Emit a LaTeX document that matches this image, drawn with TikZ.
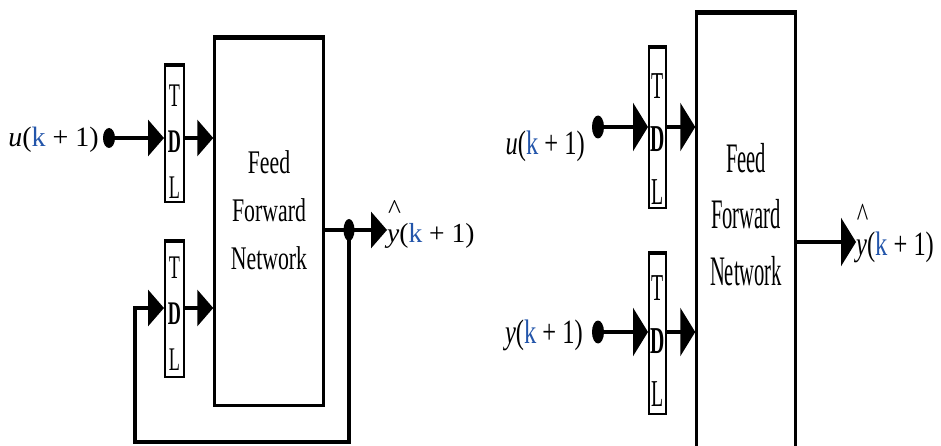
\documentclass[tikz,border=0pt]{standalone}
\usepackage{fontspec}
\setmainfont{Liberation Serif}
\usetikzlibrary{arrows.meta,shapes.geometric}
\definecolor{kblue}{RGB}{35,85,170}
\newcommand{\kk}{\textcolor{kblue}{k}}
\newcommand{\yhat}{\makebox[0pt][l]{\hspace{0.03em}\raisebox{0.85em}{\textasciicircum}}\textit{y}}
\newcommand{\tdltext}[3]{\scalebox{#1}[1]{\fontsize{#2}{#3}\selectfont\begin{tabular}{@{}c@{}}T\\\textbf{D}\\L\end{tabular}}}
\newcommand{\ffntext}[3]{\scalebox{#1}[1]{\fontsize{#2}{#3}\selectfont\begin{tabular}{@{}c@{}}Feed\\Forward\\Network\end{tabular}}}
\begin{document}
\begin{tikzpicture}[x=1pt,y=-1pt,
  ffnbox/.style={draw, line width=2.5pt, inner sep=0pt, minimum width=#1},
  tdlbox/.style={draw, line width=2pt, inner sep=0pt},
  dotnode/.style={ellipse, fill=black, draw=none, inner sep=0pt, minimum width=12pt, minimum height=#1},
  txt/.style={inner sep=0pt},
  wire/.style={line width=3.5pt},
  connL/.style={line width=3.5pt, -{Triangle[length=16pt,width=36pt]}},
  connR/.style={line width=3.5pt, -{Triangle[length=15pt,width=48pt]}},
  topedge/.style={line width=4.5pt}]
\clip (0,0) rectangle (941,446);
\fill[white] (0,0) rectangle (941,446);

% ---------------- left diagram ----------------
\node[ffnbox=109pt, minimum height=367pt] (ffnL) at (269,222) {};
\draw[topedge] (ffnL.north west) -- (ffnL.north east);
\node[txt] (ffnLt) at (269,212.4) {\ffntext{0.66}{33}{48}};

\node[tdlbox, minimum width=19pt, minimum height=136pt] (tdlL1) at (174.5,134) {};
\draw[topedge] (tdlL1.north west) -- (tdlL1.north east);
\node[txt] (tdlL1t) at (174.5,143.7) {\tdltext{0.55}{33}{46}};

\node[tdlbox, minimum width=19pt, minimum height=135pt] (tdlL2) at (174.5,309.5) {};
\draw[topedge] (tdlL2.north west) -- (tdlL2.north east);
\node[txt] (tdlL2t) at (174.5,315.7) {\tdltext{0.55}{33}{46}};

\node[dotnode=20pt] (uL) at (109,138) {};
\node[txt, anchor=base east] (uLlab) at (99,147) {\fontsize{28}{32}\selectfont\textit{u}(\kk{} + 1)};

\node[dotnode=22pt, minimum width=11pt] (oL) at (349,230) {};
\node[txt, anchor=base west] (yL) at (387,242) {\fontsize{27.5}{32}\selectfont\yhat(\kk{} + 1)};

\coordinate (fbA) at (349,442);
\coordinate (fbB) at (135,442);
\coordinate (fbC) at (135,308);

\draw[connL] (uL.center) -- (tdlL1.west |- uL);
\draw[connL] (tdlL1.east |- uL) -- (ffnL.west |- uL);
\draw[connL] (tdlL2.east |- fbC) -- (ffnL.west |- fbC);
\draw[wire] (ffnL.east |- oL) -- (oL.center);
\draw[connL] (oL.center) -- (oL -| yL.west);
\draw[connL] (oL.center) -- (fbA) -- (fbB) -- (fbC) -- (tdlL2.west |- fbC);

% ---------------- right diagram ----------------
\node[ffnbox=99pt, minimum height=456.5pt] (ffnR) at (746,241.75) {};
\draw[topedge] (ffnR.north west) -- (ffnR.north east);
\node[txt] (ffnRt) at (746,217.8) {\ffntext{0.49}{42}{56}};

\node[tdlbox, minimum width=17pt, minimum height=160pt] (tdlR1) at (657.5,128) {};
\draw[topedge] (tdlR1.north west) -- (tdlR1.north east);
\node[txt] (tdlR1t) at (657.5,141) {\tdltext{0.52}{38}{53}};

\node[tdlbox, minimum width=17pt, minimum height=160pt] (tdlR2) at (657.5,334) {};
\draw[topedge] (tdlR2.north west) -- (tdlR2.north east);
\node[txt] (tdlR2t) at (657.5,343) {\tdltext{0.52}{38}{53}};

\node[dotnode=23pt] (uR) at (598,127) {};
\node[txt, anchor=base east] (uRlab) at (585,155) {\scalebox{0.72}[1]{\fontsize{34}{40}\selectfont\textit{u}(\kk{} + 1)}};
\node[dotnode=23pt] (yR) at (598,332) {};
\node[txt, anchor=base east] (yRlab) at (583,343) {\scalebox{0.72}[1]{\fontsize{34}{40}\selectfont\textit{y}(\kk{} + 1)}};

\coordinate (oR) at (797,242);
\node[txt, anchor=base west] (yhR) at (856,255) {\scalebox{0.72}[1]{\fontsize{34}{40}\selectfont\yhat(\kk{} + 1)}};

\draw[connR] (uR.center) -- (tdlR1.west |- uR);
\draw[connR] (tdlR1.east |- uR) -- (ffnR.west |- uR);
\draw[connR] (yR.center) -- (tdlR2.west |- yR);
\draw[connR] (tdlR2.east |- yR) -- (ffnR.west |- yR);
\draw[connR] (ffnR.east |- oR) -- (oR -| yhR.west);
\end{tikzpicture}
\end{document}
